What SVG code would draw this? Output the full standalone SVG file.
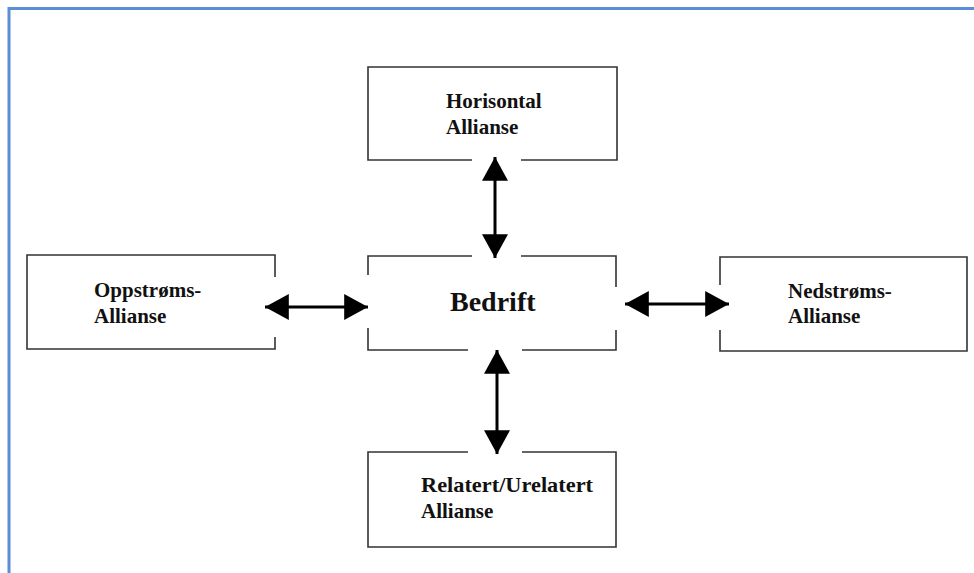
<svg xmlns="http://www.w3.org/2000/svg" width="974" height="573" viewBox="0 0 974 573">
<defs>
<style>
.box{fill:none;stroke:#333;stroke-width:1.6}
.lbl{font-family:"Liberation Serif","Times New Roman",serif;font-weight:bold;font-size:21px;fill:#111}
.big{font-size:28px}
.con{stroke:#000;stroke-width:3;fill:none;marker-start:url(#ah);marker-end:url(#ah)}
</style>
<marker id="ah" markerUnits="userSpaceOnUse" markerWidth="24" markerHeight="26" viewBox="0 0 22 24" refX="22" refY="12" orient="auto-start-reverse">
<path d="M0,0 L22,12 L0,24 Z" fill="#000"/>
</marker>
</defs>
<rect x="0" y="0" width="974" height="573" fill="#fff"/>
<path d="M9,573 V8.5 H974" fill="none" stroke="#5B8ED6" stroke-width="3"/>
<g id="horisontal">
<path class="box" d="M472,160 H368 V67 H617 V160 H521"/>
<text class="lbl" x="446" y="108">Horisontal</text>
<text class="lbl" x="446" y="134">Allianse</text>
</g>
<g id="bedrift">
<path class="box" d="M472,256 H368 V275 M368,328 V350 H468 M522,350 H616 V330 M616,287 V256 H521"/>
<text class="lbl big" x="450" y="311">Bedrift</text>
</g>
<g id="oppstroms">
<path class="box" d="M275,277 V255 H27 V349 H275 V337"/>
<text class="lbl" x="94" y="297">Oppstrøms-</text>
<text class="lbl" x="94" y="323">Allianse</text>
</g>
<g id="nedstroms">
<path class="box" d="M720,285 V257 H967 V351 H720 V330"/>
<text class="lbl" x="788" y="298">Nedstrøms-</text>
<text class="lbl" x="788" y="323">Allianse</text>
</g>
<g id="relatert">
<path class="box" d="M468,452 H368 V547 H616 V452 H522"/>
<text class="lbl" x="421" y="492" textLength="172" lengthAdjust="spacingAndGlyphs">Relatert/Urelatert</text>
<text class="lbl" x="421" y="518">Allianse</text>
</g>
<g id="connectors">
<line class="con" x1="495" y1="157" x2="495" y2="258"/>
<line class="con" x1="497" y1="350" x2="497" y2="454"/>
<line class="con" x1="265" y1="307" x2="368" y2="307"/>
<line class="con" x1="625" y1="304" x2="729" y2="304"/>
</g>
</svg>
